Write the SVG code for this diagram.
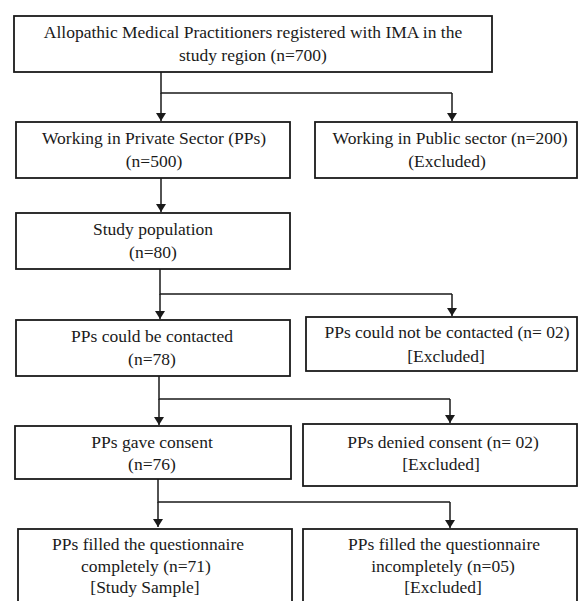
<svg xmlns="http://www.w3.org/2000/svg" width="578" height="601" viewBox="0 0 578 601">
<defs>
<marker id="arr" viewBox="0 0 8 10" refX="8" refY="5" markerWidth="8" markerHeight="10" markerUnits="userSpaceOnUse" orient="auto">
<path d="M0,0 L8,5 L0,10 Z" fill="#1a1a1a"/>
</marker>
</defs>
<style>
.box{fill:#ffffff;stroke:#1a1a1a;stroke-width:1.8}
.t{font-family:"Liberation Serif","Times New Roman",serif;font-size:17.5px;fill:#1a1a1a;text-anchor:middle}
.c{fill:none;stroke:#1a1a1a;stroke-width:1.5}
</style>
<rect width="578" height="601" fill="#ffffff"/>
<g id="connectors">
<path class="c" d="M161,72 V93 H452"/>
<path class="c" d="M161,93 V121" marker-end="url(#arr)"/>
<path class="c" d="M452,93 V121" marker-end="url(#arr)"/>
<path class="c" d="M161,178 V212" marker-end="url(#arr)"/>
<path class="c" d="M160,269 V294 H452"/>
<path class="c" d="M160,294 V319" marker-end="url(#arr)"/>
<path class="c" d="M452,294 V316" marker-end="url(#arr)"/>
<path class="c" d="M159,376 V399 H450"/>
<path class="c" d="M159,399 V425" marker-end="url(#arr)"/>
<path class="c" d="M450,399 V423" marker-end="url(#arr)"/>
<path class="c" d="M158,479 V502 H450"/>
<path class="c" d="M158,502 V527" marker-end="url(#arr)"/>
<path class="c" d="M450,502 V528" marker-end="url(#arr)"/>
</g>
<g id="n1">
<rect class="box" x="14" y="16" width="478" height="56"/>
<text class="t" x="253" y="38">Allopathic Medical Practitioners registered with IMA in the</text>
<text class="t" x="253" y="61">study region (n=700)</text>
</g>
<g id="n2">
<rect class="box" x="16" y="122" width="274" height="56"/>
<text class="t" x="154" y="144">Working in Private Sector (PPs)</text>
<text class="t" x="154" y="167">(n=500)</text>
</g>
<g id="n3">
<rect class="box" x="315" y="122" width="262" height="56"/>
<text class="t" x="450" y="144">Working in Public sector (n=200)</text>
<text class="t" x="447" y="167">(Excluded)</text>
</g>
<g id="n4">
<rect class="box" x="16" y="213" width="274" height="56"/>
<text class="t" x="153" y="235">Study population</text>
<text class="t" x="153" y="258">(n=80)</text>
</g>
<g id="n5">
<rect class="box" x="16" y="320" width="274" height="56"/>
<text class="t" x="152" y="342">PPs could be contacted</text>
<text class="t" x="152" y="365">(n=78)</text>
</g>
<g id="n6">
<rect class="box" x="306" y="317" width="271" height="54"/>
<text class="t" x="447" y="338">PPs could not be contacted (n= 02)</text>
<text class="t" x="446" y="362">[Excluded]</text>
</g>
<g id="n7">
<rect class="box" x="15" y="426" width="276" height="53"/>
<text class="t" x="152" y="448">PPs gave consent</text>
<text class="t" x="152" y="470">(n=76)</text>
</g>
<g id="n8">
<rect class="box" x="303" y="424" width="274" height="62"/>
<text class="t" x="443" y="448">PPs denied consent (n= 02)</text>
<text class="t" x="441" y="470">[Excluded]</text>
</g>
<g id="n9">
<rect class="box" x="18" y="529" width="274" height="90"/>
<text class="t" x="148" y="550">PPs filled the questionnaire</text>
<text class="t" x="146" y="572">completely (n=71)</text>
<text class="t" x="145" y="593">[Study Sample]</text>
</g>
<g id="n10">
<rect class="box" x="303" y="529" width="274" height="90"/>
<text class="t" x="444" y="550">PPs filled the questionnaire</text>
<text class="t" x="443" y="572">incompletely (n=05)</text>
<text class="t" x="443" y="593">[Excluded]</text>
</g>
</svg>
